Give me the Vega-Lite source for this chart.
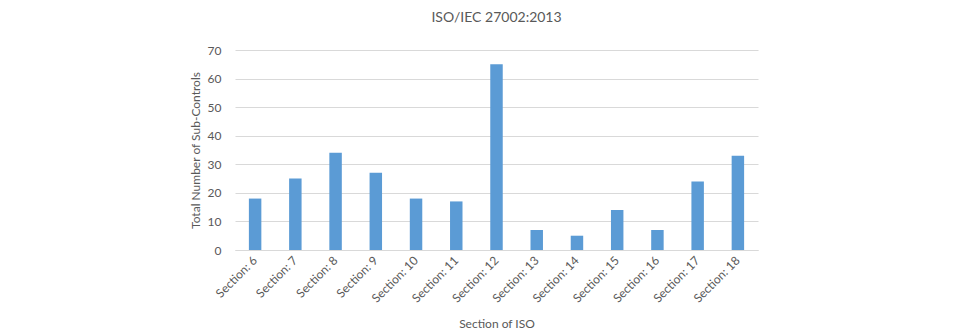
{
  "$schema": "https://vega.github.io/schema/vega-lite/v6.json",
  "width": 523,
  "height": 200,
  "autosize": {"type": "none"},
  "padding": {"left": 235, "top": 50, "right": 206, "bottom": 80},
  "background": "white",
  "title": {
    "text": "ISO/IEC 27002:2013",
    "font": "Lato",
    "fontSize": 14,
    "fontWeight": "normal",
    "color": "#595959",
    "anchor": "middle",
    "offset": 19
  },
  "data": {
    "values": [
      {"section": "Section: 6", "count": 18},
      {"section": "Section: 7", "count": 25},
      {"section": "Section: 8", "count": 34},
      {"section": "Section: 9", "count": 27},
      {"section": "Section: 10", "count": 18},
      {"section": "Section: 11", "count": 17},
      {"section": "Section: 12", "count": 65},
      {"section": "Section: 13", "count": 7},
      {"section": "Section: 14", "count": 5},
      {"section": "Section: 15", "count": 14},
      {"section": "Section: 16", "count": 7},
      {"section": "Section: 17", "count": 24},
      {"section": "Section: 18", "count": 33}
    ]
  },
  "mark": {"type": "bar", "color": "#5b9bd5"},
  "encoding": {
    "x": {
      "field": "section",
      "type": "nominal",
      "sort": null,
      "scale": {"paddingInner": 0.69, "paddingOuter": 0.345},
      "axis": {
        "title": "Section of ISO",
        "labelAngle": -45,
        "labelAlign": "right",
        "labelBaseline": "middle",
        "ticks": false,
        "labelPadding": 8,
        "domainColor": "#d9d9d9",
        "titlePadding": 14
      }
    },
    "y": {
      "field": "count",
      "type": "quantitative",
      "scale": {"domain": [0, 70]},
      "axis": {
        "title": "Total Number  of Sub-Controls",
        "values": [0, 10, 20, 30, 40, 50, 60, 70],
        "domain": false,
        "ticks": false,
        "gridColor": "#d9d9d9",
        "labelPadding": 14,
        "titlePadding": 5
      }
    }
  },
  "config": {
    "view": {"stroke": null},
    "axis": {
      "labelFont": "Lato",
      "labelFontSize": 12,
      "labelColor": "#595959",
      "titleFont": "Lato",
      "titleFontSize": 12,
      "titleFontWeight": "normal",
      "titleColor": "#595959"
    }
  }
}
